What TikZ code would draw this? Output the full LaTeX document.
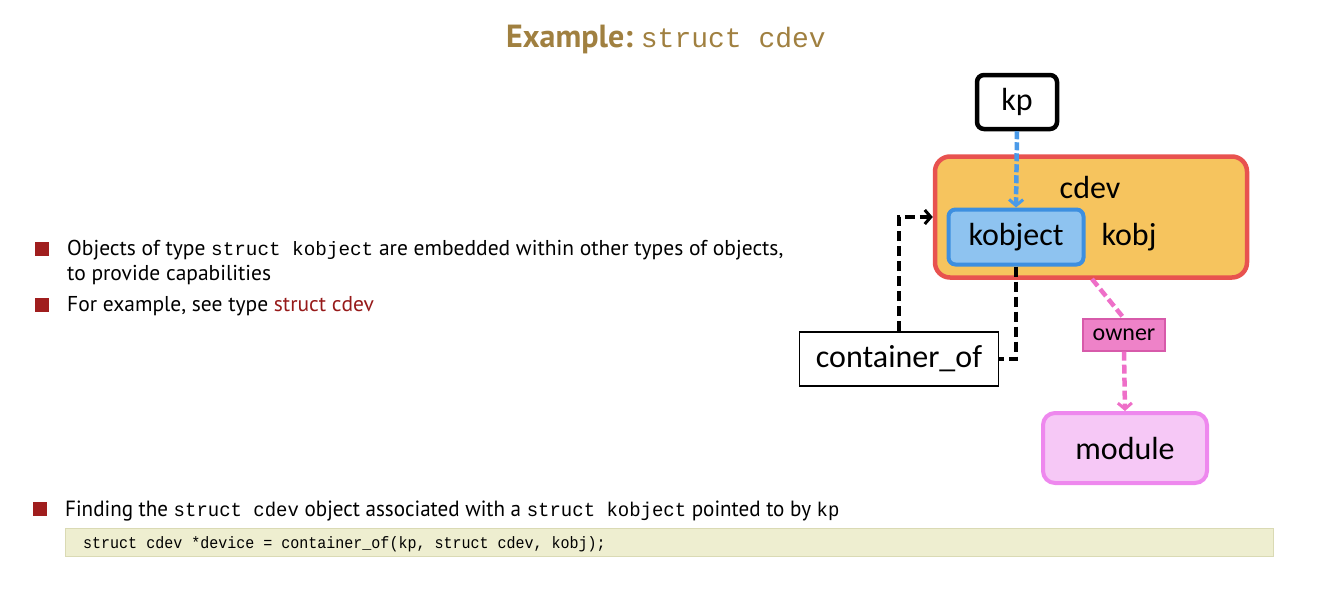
\documentclass[tikz,border=0pt]{standalone}
\usepackage{fontspec}
\usepackage{graphicx}
\usetikzlibrary{arrows.meta}
\setmainfont{PT Sans}
\newfontfamily\diagfont{Carlito}
\newfontfamily\monof{Liberation Mono}
\definecolor{titlec}{RGB}{160,128,64}
\definecolor{bulletred}{RGB}{160,30,30}
\definecolor{darkred}{RGB}{150,25,25}
\definecolor{cdevfill}{RGB}{246,196,94}
\definecolor{cdevdraw}{RGB}{232,82,79}
\definecolor{kobjfill}{RGB}{142,195,240}
\definecolor{kobjdraw}{RGB}{61,143,224}
\definecolor{bluearrow}{RGB}{74,154,232}
\definecolor{pinkline}{RGB}{238,111,200}
\definecolor{ownerfill}{RGB}{238,130,200}
\definecolor{ownerdraw}{RGB}{215,90,170}
\definecolor{modfill}{RGB}{246,200,246}
\definecolor{moddraw}{RGB}{238,136,238}
\definecolor{codefill}{RGB}{238,238,208}
\definecolor{codedraw}{RGB}{218,218,180}
\tikzset{
  bulletsq/.style={fill=bulletred, minimum width=14pt, minimum height=14pt, inner sep=0pt},
  bodytext/.style={anchor=base west, inner sep=0pt, font=\fontsize{21.5}{25}\selectfont},
  dbox/.style={rounded corners=7pt, font=\diagfont\fontsize{32}{36}\selectfont, inner sep=0pt},
  blackdash/.style={line width=4.5pt, dash pattern=on 10pt off 5pt},
  bluedash/.style={line width=4.5pt, bluearrow, dash pattern=on 8pt off 3pt},
  pinkdash/.style={line width=4.5pt, pinkline, dash pattern=on 9pt off 4pt},
  barb/.style={-{Straight Barb[length=6pt, width=14pt, line width=3pt]}}
}
\begin{document}
\begin{tikzpicture}[x=1pt,y=-1pt]
\useasboundingbox (0,0) rectangle (1318,590);
% title
\node[anchor=base, inner sep=0pt, text=titlec] (title) at (666,47)
  {\fontsize{32}{36}\selectfont\bfseries Example:\hspace{8pt}\monof\mdseries\fontsize{28}{32}\selectfont struct cdev};
% bullets
\node[bulletsq] (b1) at (42,249) {};
\node[bodytext] (t1) at (67,255) {Objects of type {\monof\fontsize{19.3}{22}\selectfont struct kobject} are embedded within other types of objects,};
\node[bodytext] (t1b) at (67,280) {to provide capabilities};
\node[bulletsq] (b2) at (42,305) {};
\node[bodytext] (t2) at (67,311) {For example, see type \textcolor{darkred}{struct cdev}};
\node[bulletsq] (b3) at (40,509) {};
\node[bodytext] (t3) at (65,516) {\scalebox{0.958}[1]{\fontsize{22}{26}\selectfont Finding the {\monof\fontsize{19.8}{22}\selectfont struct cdev} object associated with a {\monof\fontsize{19.8}{22}\selectfont struct kobject} pointed to by {\monof\fontsize{19.8}{22}\selectfont kp}}};
% code box
\node[draw=codedraw, fill=codefill, line width=1pt, minimum width=1208pt, minimum height=28pt, inner sep=0pt, anchor=north west] (code) at (65,528) {};
\node[anchor=base west, inner sep=0pt] (codetext) at (83,548) {\scalebox{0.91}[1]{\monof\fontsize{16.5}{19}\selectfont struct cdev *device = container\_of(kp, struct cdev, kobj);}};
% diagram
\node[dbox, draw=black, line width=4.5pt, fill=white, minimum width=80pt, minimum height=54pt] (kp) at (1017,102) {kp};
\node[draw=cdevdraw, fill=cdevfill, line width=4.5pt, rounded corners=15pt, minimum width=312pt, minimum height=121pt, inner sep=0pt] (cdev) at (1091,217) {};
\node[inner sep=0pt, font=\diagfont\fontsize{32}{36}\selectfont] (cdevlbl) at (1090,187) {cdev};
\node[dbox, draw=kobjdraw, fill=kobjfill, line width=4pt, minimum width=135pt, minimum height=55pt] (kobject) at (1016,237) {kobject};
\node[inner sep=0pt, font=\diagfont\fontsize{32}{36}\selectfont] (kobj) at (1129,237) {kobj};
\node[draw=black, line width=1.8pt, fill=white, minimum width=199pt, minimum height=54pt, inner sep=0pt, font=\diagfont\fontsize{32}{36}\selectfont] (cof) at (899,359) {container\_of};
\node[draw=ownerdraw, fill=ownerfill, line width=1.2pt, minimum width=82pt, minimum height=32pt, inner sep=0pt, font=\diagfont\fontsize{24}{28}\selectfont] (owner) at (1124,335) {owner};
\node[dbox, draw=moddraw, fill=modfill, line width=4pt, rounded corners=12pt, minimum width=164pt, minimum height=70pt] (module) at (1125,448) {module};
% connectors
\draw[bluedash, barb] (kp.south) -- (kobject.north);
\draw[blackdash] (kobject.south) |- (cof.east);
\draw[blackdash, barb] (cof.north) |- (cdev.west |- 0,217);
\coordinate (pinkstart) at (1092,279);
\draw[pinkdash] (pinkstart) -- (owner.north);
\draw[pinkdash, barb] (owner.south) -- (module.north);
\end{tikzpicture}
\end{document}
